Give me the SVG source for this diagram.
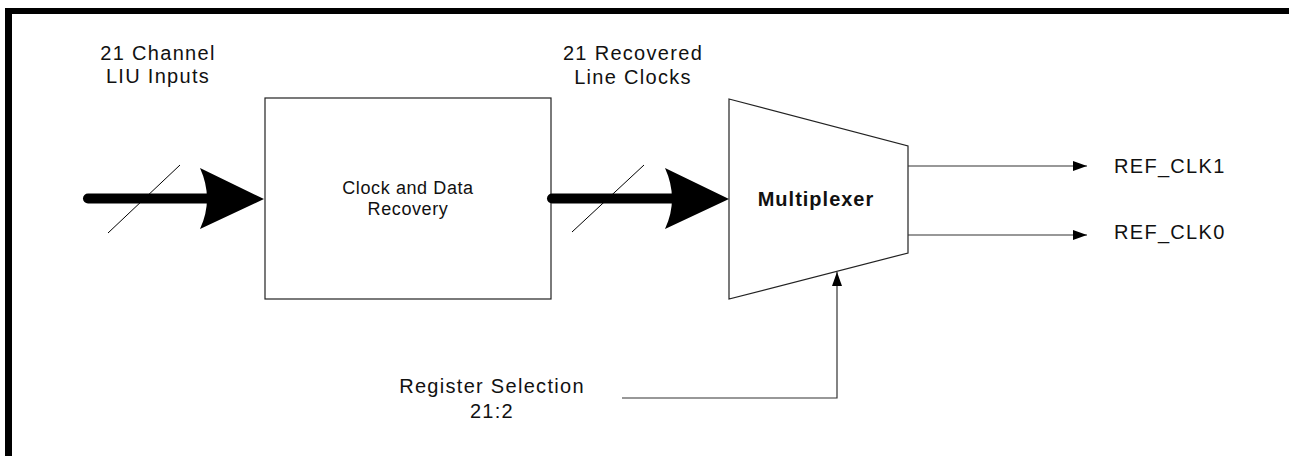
<svg xmlns="http://www.w3.org/2000/svg" width="1289" height="456" viewBox="0 0 1289 456">
<style>
.t{font-family:"Liberation Sans",Arial,sans-serif;font-size:20px;letter-spacing:1.3px;fill:#111;text-anchor:middle}
.s{font-size:18px;letter-spacing:0.6px}
.b{font-weight:bold;letter-spacing:1px}
.ln{stroke:#333;stroke-width:1.2;fill:none}
.shape{stroke:#222;stroke-width:1.2;fill:#fff}
.bus{stroke:#000;stroke-width:10;stroke-linecap:round;fill:none}
.sl{stroke:#000;stroke-width:1;fill:none}
</style>
<defs>
<marker id="ah" markerWidth="14" markerHeight="10" refX="14" refY="5" orient="auto" markerUnits="userSpaceOnUse">
<path d="M0,0 L14,5 L0,10 Z" fill="#000"/>
</marker>
</defs>
<rect width="1289" height="456" fill="#fff"/>
<g id="frame">
<rect x="5" y="8" width="1284" height="6" fill="#000"/>
<rect x="5" y="8" width="7" height="448" fill="#000"/>
</g>
<g id="label-inputs">
<text class="t" x="158" y="60">21 Channel</text>
<text class="t" x="158" y="83">LIU Inputs</text>
</g>
<g id="cdr">
<rect class="shape" x="265" y="98" width="286" height="201"/>
<text class="t s" x="408" y="194">Clock and Data</text>
<text class="t s" x="408" y="215">Recovery</text>
</g>
<g id="label-recovered">
<text class="t" x="633" y="60">21 Recovered</text>
<text class="t" x="633" y="84">Line Clocks</text>
</g>
<g id="mux">
<path class="shape" d="M729,99 L908,146 L908,253 L729,299 Z"/>
<text class="t b" x="816" y="206">Multiplexer</text>
</g>
<g id="ref-clk1"><text class="t" x="1114" y="173" style="text-anchor:start">REF_CLK1</text></g>
<g id="ref-clk0"><text class="t" x="1114" y="239" style="text-anchor:start">REF_CLK0</text></g>
<g id="register-selection">
<text class="t" x="492" y="393">Register Selection</text>
<text class="t" x="492" y="418">21:2</text>
</g>
<g id="connectors">
<line class="bus" x1="88" y1="198.5" x2="215" y2="198.5"/>
<path d="M264,199 L200,168 Q214,199 200,229 Z" fill="#000"/>
<line class="sl" x1="108" y1="233" x2="180" y2="165"/>
<line class="bus" x1="552" y1="198.5" x2="680" y2="198.5"/>
<path d="M729,199 L665,168 Q679,199 665,229 Z" fill="#000"/>
<line class="sl" x1="572" y1="232" x2="644" y2="165"/>
<line class="ln" x1="908" y1="166" x2="1087" y2="166" marker-end="url(#ah)"/>
<line class="ln" x1="908" y1="235" x2="1087" y2="235" marker-end="url(#ah)"/>
<polyline class="ln" points="622,398 837,398 837,272" marker-end="url(#ah)"/>
</g>
</svg>
